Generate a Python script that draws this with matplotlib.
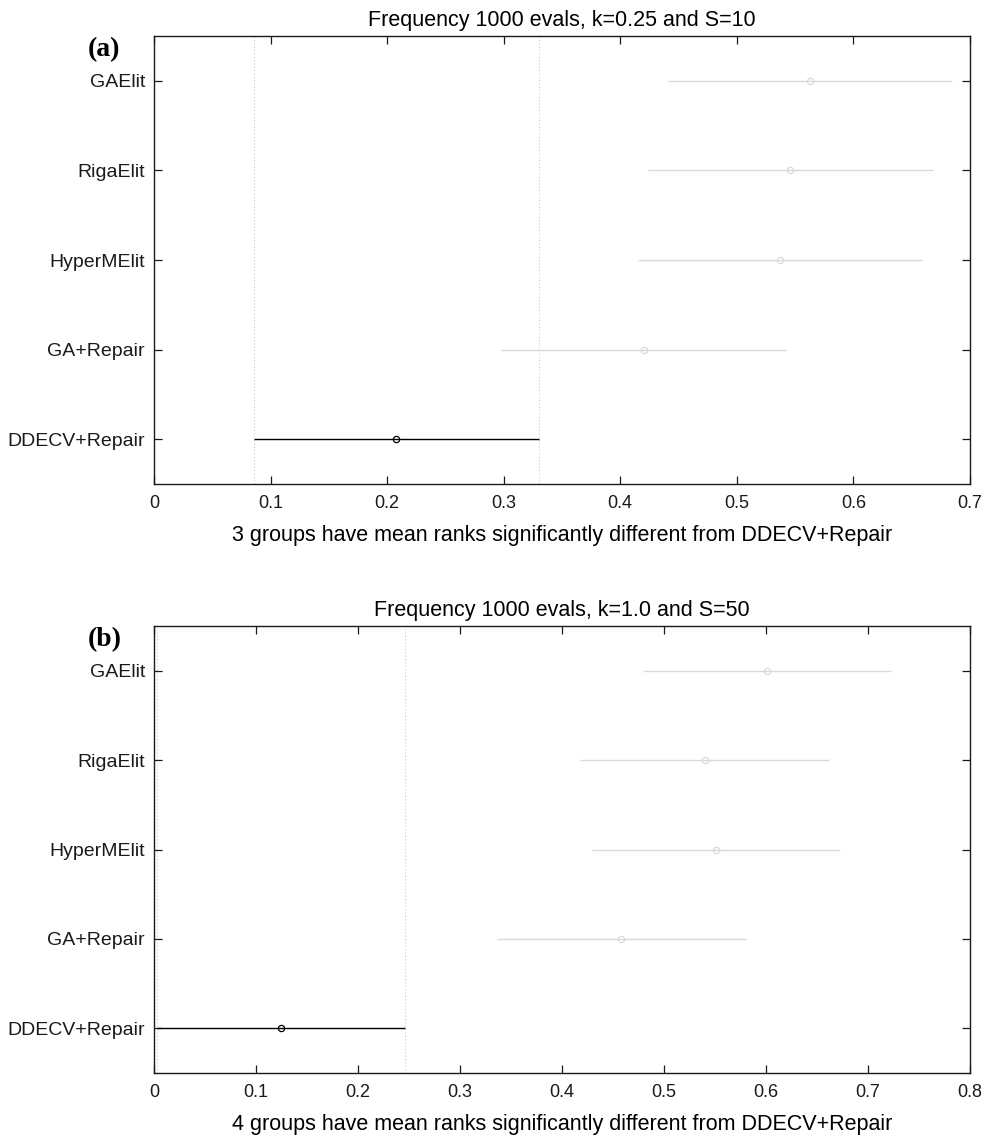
""" Multiple comparison of mean ranks, two panels. """
import numpy
import matplotlib
matplotlib.use('Agg')
import matplotlib.pyplot as plt

plt.rcParams['font.family'] = ['Liberation Sans', 'DejaVu Sans']

groups = ['GAElit', 'RigaElit', 'HyperMElit', 'GA+Repair', 'DDECV+Repair']

# panel (a): k=0.25, S=10
means_a = [0.563, 0.546, 0.537, 0.420, 0.208]
half_a = [0.122, 0.122, 0.122, 0.122, 0.122]
# panel (b): k=1.0, S=50
means_b = [0.601, 0.540, 0.551, 0.458, 0.1245]
half_b = [0.122, 0.122, 0.122, 0.122, 0.122]

titles = ['Frequency 1000 evals, k=0.25 and S=10',
          'Frequency 1000 evals, k=1.0 and S=50']
xlabels = ['3 groups have mean ranks significantly different from DDECV+Repair',
           '4 groups have mean ranks significantly different from DDECV+Repair']
panel_tags = ['(a)', '(b)']
xmax = [0.7, 0.8]
selected = 'DDECV+Repair'

GRAY = '#d9d9d9'


def draw_panel(ax, means, half, title, xlabel, xm):
    means = numpy.asarray(means)
    half = numpy.asarray(half)
    ypos = numpy.arange(1, len(groups) + 1)
    sel = groups.index(selected)
    lo, hi = means[sel] - half[sel], means[sel] + half[sel]
    # reference lines at the ends of the selected interval
    for x in (lo, hi):
        ax.axvline(x, color='#cccccc', linestyle=(0, (1, 2)), linewidth=0.8, zorder=1)
    for i, g in enumerate(groups):
        c = 'black' if g == selected else GRAY
        ax.plot([means[i] - half[i], means[i] + half[i]], [ypos[i], ypos[i]],
                color=c, linewidth=1.0, zorder=2, solid_capstyle='butt')
        ax.plot(means[i], ypos[i], 'o', markersize=4.5, markerfacecolor='none',
                markeredgecolor=c, markeredgewidth=0.9, zorder=3)
    ticks = numpy.round(numpy.arange(0, xm + 0.001, 0.1), 1)
    ax.set_xlim(0, xm)
    ax.set_ylim(len(groups) + 0.5, 0.5)
    ax.set_xticks(ticks)
    ax.set_xticklabels(['%g' % t for t in ticks])
    ax.set_yticks(ypos)
    ax.set_yticklabels(groups)
    ax.tick_params(direction='in', top=True, right=True, length=6, width=0.9,
                   colors='#1a1a1a')
    ax.tick_params(axis='x', pad=8, labelsize=13)
    ax.tick_params(axis='y', pad=6.5, labelsize=14)
    for s in ax.spines.values():
        s.set_linewidth(1.0)
        s.set_color('#1a1a1a')
    ax.set_title(title, fontsize=15.5, pad=7)
    ax.set_xlabel(xlabel, fontsize=15.5, labelpad=9)


fig = plt.figure(figsize=(9.85, 11.37), dpi=100)
ax_a = fig.add_axes([0.1563, 0.5743, 0.8284, 0.394])
ax_b = fig.add_axes([0.1563, 0.0563, 0.8284, 0.3931])

for ax, m, h, t, xl, xm in zip([ax_a, ax_b], [means_a, means_b], [half_a, half_b],
                               titles, xlabels, xmax):
    draw_panel(ax, m, h, t, xl, xm)

for tag, ypos in zip(panel_tags, [0.951, 0.432]):
    fig.text(0.089, ypos, tag, fontsize=20, fontweight='bold', va='baseline',
             family=['Liberation Serif', 'DejaVu Serif'])

plt.savefig('out.png', dpi=100)
plt.close('all')
